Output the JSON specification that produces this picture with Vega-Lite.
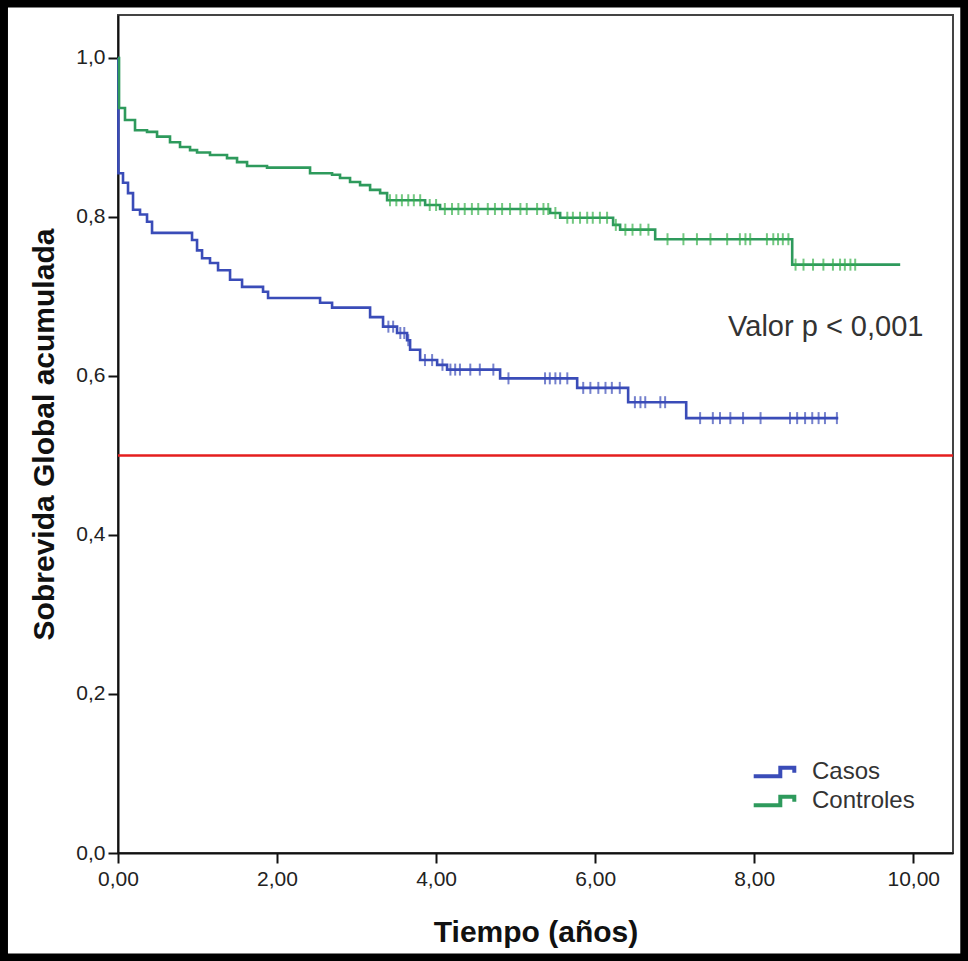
{
  "$schema": "https://vega.github.io/schema/vega-lite/v6.json",
  "width": 835,
  "height": 838,
  "autosize": {"type": "none"},
  "padding": {"left": 118, "top": 15, "right": 15, "bottom": 108},
  "background": "white",
  "config": {
    "view": {"stroke": "#444", "strokeWidth": 2},
    "font": "Liberation Sans",
    "axis": {
      "grid": false,
      "domainColor": "#111",
      "domainWidth": 2,
      "tickColor": "#111",
      "tickWidth": 2,
      "tickSize": 10,
      "labelFlush": false,
      "labelFont": "Liberation Sans",
      "labelFontSize": 21,
      "labelColor": "#222",
      "titleFont": "Liberation Sans",
      "titleFontSize": 30,
      "titleFontWeight": "bold",
      "titleColor": "#111"
    },
    "legend": {
      "labelFont": "Liberation Sans",
      "labelFontSize": 24,
      "labelColor": "#333"
    }
  },
  "datasets": {
    "curvas": [
      {"grupo": "Casos", "t": 0, "s": 1.0},
      {"grupo": "Casos", "t": 0.005, "s": 0.855},
      {"grupo": "Casos", "t": 0.063, "s": 0.843},
      {"grupo": "Casos", "t": 0.126, "s": 0.830},
      {"grupo": "Casos", "t": 0.189, "s": 0.809},
      {"grupo": "Casos", "t": 0.277, "s": 0.803},
      {"grupo": "Casos", "t": 0.365, "s": 0.794},
      {"grupo": "Casos", "t": 0.428, "s": 0.780},
      {"grupo": "Casos", "t": 0.931, "s": 0.771},
      {"grupo": "Casos", "t": 0.994, "s": 0.758},
      {"grupo": "Casos", "t": 1.057, "s": 0.748},
      {"grupo": "Casos", "t": 1.157, "s": 0.742},
      {"grupo": "Casos", "t": 1.258, "s": 0.733},
      {"grupo": "Casos", "t": 1.409, "s": 0.721},
      {"grupo": "Casos", "t": 1.560, "s": 0.712},
      {"grupo": "Casos", "t": 1.824, "s": 0.706},
      {"grupo": "Casos", "t": 1.887, "s": 0.698},
      {"grupo": "Casos", "t": 2.541, "s": 0.692},
      {"grupo": "Casos", "t": 2.692, "s": 0.686},
      {"grupo": "Casos", "t": 3.170, "s": 0.674},
      {"grupo": "Casos", "t": 3.333, "s": 0.662},
      {"grupo": "Casos", "t": 3.509, "s": 0.654},
      {"grupo": "Casos", "t": 3.635, "s": 0.645},
      {"grupo": "Casos", "t": 3.673, "s": 0.633},
      {"grupo": "Casos", "t": 3.799, "s": 0.620},
      {"grupo": "Casos", "t": 4.013, "s": 0.614},
      {"grupo": "Casos", "t": 4.138, "s": 0.608},
      {"grupo": "Casos", "t": 4.805, "s": 0.597},
      {"grupo": "Casos", "t": 5.774, "s": 0.585},
      {"grupo": "Casos", "t": 6.415, "s": 0.567},
      {"grupo": "Casos", "t": 7.145, "s": 0.547},
      {"grupo": "Casos", "t": 9.057, "s": 0.547},
      {"grupo": "Controles", "t": 0, "s": 1.0},
      {"grupo": "Controles", "t": 0.013, "s": 0.937},
      {"grupo": "Controles", "t": 0.088, "s": 0.922},
      {"grupo": "Controles", "t": 0.214, "s": 0.909},
      {"grupo": "Controles", "t": 0.365, "s": 0.907},
      {"grupo": "Controles", "t": 0.491, "s": 0.901},
      {"grupo": "Controles", "t": 0.654, "s": 0.894},
      {"grupo": "Controles", "t": 0.780, "s": 0.888},
      {"grupo": "Controles", "t": 0.906, "s": 0.884},
      {"grupo": "Controles", "t": 0.994, "s": 0.881},
      {"grupo": "Controles", "t": 1.157, "s": 0.878},
      {"grupo": "Controles", "t": 1.371, "s": 0.874},
      {"grupo": "Controles", "t": 1.497, "s": 0.869},
      {"grupo": "Controles", "t": 1.623, "s": 0.864},
      {"grupo": "Controles", "t": 1.874, "s": 0.862},
      {"grupo": "Controles", "t": 2.415, "s": 0.855},
      {"grupo": "Controles", "t": 2.692, "s": 0.853},
      {"grupo": "Controles", "t": 2.792, "s": 0.849},
      {"grupo": "Controles", "t": 2.918, "s": 0.844},
      {"grupo": "Controles", "t": 3.044, "s": 0.840},
      {"grupo": "Controles", "t": 3.170, "s": 0.834},
      {"grupo": "Controles", "t": 3.296, "s": 0.830},
      {"grupo": "Controles", "t": 3.384, "s": 0.821},
      {"grupo": "Controles", "t": 3.862, "s": 0.815},
      {"grupo": "Controles", "t": 4.050, "s": 0.810},
      {"grupo": "Controles", "t": 5.434, "s": 0.805},
      {"grupo": "Controles", "t": 5.560, "s": 0.799},
      {"grupo": "Controles", "t": 6.226, "s": 0.790},
      {"grupo": "Controles", "t": 6.314, "s": 0.784},
      {"grupo": "Controles", "t": 6.755, "s": 0.772},
      {"grupo": "Controles", "t": 8.478, "s": 0.740},
      {"grupo": "Controles", "t": 9.836, "s": 0.740}
    ],
    "censuras": [
      {"grupo": "Controles", "t": 3.42, "s": 0.821},
      {"grupo": "Controles", "t": 3.50, "s": 0.821},
      {"grupo": "Controles", "t": 3.57, "s": 0.821},
      {"grupo": "Controles", "t": 3.65, "s": 0.821},
      {"grupo": "Controles", "t": 3.72, "s": 0.821},
      {"grupo": "Controles", "t": 3.80, "s": 0.821},
      {"grupo": "Controles", "t": 3.92, "s": 0.815},
      {"grupo": "Controles", "t": 4.00, "s": 0.815},
      {"grupo": "Controles", "t": 4.11, "s": 0.810},
      {"grupo": "Controles", "t": 4.20, "s": 0.810},
      {"grupo": "Controles", "t": 4.28, "s": 0.810},
      {"grupo": "Controles", "t": 4.36, "s": 0.810},
      {"grupo": "Controles", "t": 4.45, "s": 0.810},
      {"grupo": "Controles", "t": 4.53, "s": 0.810},
      {"grupo": "Controles", "t": 4.65, "s": 0.810},
      {"grupo": "Controles", "t": 4.74, "s": 0.810},
      {"grupo": "Controles", "t": 4.83, "s": 0.810},
      {"grupo": "Controles", "t": 4.93, "s": 0.810},
      {"grupo": "Controles", "t": 5.06, "s": 0.810},
      {"grupo": "Controles", "t": 5.14, "s": 0.810},
      {"grupo": "Controles", "t": 5.27, "s": 0.810},
      {"grupo": "Controles", "t": 5.35, "s": 0.810},
      {"grupo": "Controles", "t": 5.41, "s": 0.810},
      {"grupo": "Controles", "t": 5.50, "s": 0.805},
      {"grupo": "Controles", "t": 5.65, "s": 0.799},
      {"grupo": "Controles", "t": 5.72, "s": 0.799},
      {"grupo": "Controles", "t": 5.81, "s": 0.799},
      {"grupo": "Controles", "t": 5.90, "s": 0.799},
      {"grupo": "Controles", "t": 5.97, "s": 0.799},
      {"grupo": "Controles", "t": 6.06, "s": 0.799},
      {"grupo": "Controles", "t": 6.15, "s": 0.799},
      {"grupo": "Controles", "t": 6.26, "s": 0.790},
      {"grupo": "Controles", "t": 6.38, "s": 0.784},
      {"grupo": "Controles", "t": 6.47, "s": 0.784},
      {"grupo": "Controles", "t": 6.57, "s": 0.784},
      {"grupo": "Controles", "t": 6.67, "s": 0.784},
      {"grupo": "Controles", "t": 6.91, "s": 0.772},
      {"grupo": "Controles", "t": 7.11, "s": 0.772},
      {"grupo": "Controles", "t": 7.28, "s": 0.772},
      {"grupo": "Controles", "t": 7.45, "s": 0.772},
      {"grupo": "Controles", "t": 7.66, "s": 0.772},
      {"grupo": "Controles", "t": 7.82, "s": 0.772},
      {"grupo": "Controles", "t": 7.89, "s": 0.772},
      {"grupo": "Controles", "t": 7.95, "s": 0.772},
      {"grupo": "Controles", "t": 8.16, "s": 0.772},
      {"grupo": "Controles", "t": 8.24, "s": 0.772},
      {"grupo": "Controles", "t": 8.30, "s": 0.772},
      {"grupo": "Controles", "t": 8.36, "s": 0.772},
      {"grupo": "Controles", "t": 8.43, "s": 0.772},
      {"grupo": "Controles", "t": 8.52, "s": 0.740},
      {"grupo": "Controles", "t": 8.62, "s": 0.740},
      {"grupo": "Controles", "t": 8.74, "s": 0.740},
      {"grupo": "Controles", "t": 8.87, "s": 0.740},
      {"grupo": "Controles", "t": 8.99, "s": 0.740},
      {"grupo": "Controles", "t": 9.08, "s": 0.740},
      {"grupo": "Controles", "t": 9.14, "s": 0.740},
      {"grupo": "Controles", "t": 9.21, "s": 0.740},
      {"grupo": "Controles", "t": 9.27, "s": 0.740},
      {"grupo": "Casos", "t": 3.40, "s": 0.662},
      {"grupo": "Casos", "t": 3.46, "s": 0.662},
      {"grupo": "Casos", "t": 3.55, "s": 0.654},
      {"grupo": "Casos", "t": 3.60, "s": 0.654},
      {"grupo": "Casos", "t": 3.65, "s": 0.645},
      {"grupo": "Casos", "t": 3.86, "s": 0.620},
      {"grupo": "Casos", "t": 3.95, "s": 0.620},
      {"grupo": "Casos", "t": 4.08, "s": 0.614},
      {"grupo": "Casos", "t": 4.18, "s": 0.608},
      {"grupo": "Casos", "t": 4.24, "s": 0.608},
      {"grupo": "Casos", "t": 4.30, "s": 0.608},
      {"grupo": "Casos", "t": 4.43, "s": 0.608},
      {"grupo": "Casos", "t": 4.55, "s": 0.608},
      {"grupo": "Casos", "t": 4.72, "s": 0.608},
      {"grupo": "Casos", "t": 4.91, "s": 0.597},
      {"grupo": "Casos", "t": 5.37, "s": 0.597},
      {"grupo": "Casos", "t": 5.43, "s": 0.597},
      {"grupo": "Casos", "t": 5.50, "s": 0.597},
      {"grupo": "Casos", "t": 5.56, "s": 0.597},
      {"grupo": "Casos", "t": 5.65, "s": 0.597},
      {"grupo": "Casos", "t": 5.85, "s": 0.585},
      {"grupo": "Casos", "t": 5.94, "s": 0.585},
      {"grupo": "Casos", "t": 6.04, "s": 0.585},
      {"grupo": "Casos", "t": 6.13, "s": 0.585},
      {"grupo": "Casos", "t": 6.21, "s": 0.585},
      {"grupo": "Casos", "t": 6.31, "s": 0.585},
      {"grupo": "Casos", "t": 6.50, "s": 0.567},
      {"grupo": "Casos", "t": 6.57, "s": 0.567},
      {"grupo": "Casos", "t": 6.63, "s": 0.567},
      {"grupo": "Casos", "t": 6.82, "s": 0.567},
      {"grupo": "Casos", "t": 6.88, "s": 0.567},
      {"grupo": "Casos", "t": 7.32, "s": 0.547},
      {"grupo": "Casos", "t": 7.48, "s": 0.547},
      {"grupo": "Casos", "t": 7.57, "s": 0.547},
      {"grupo": "Casos", "t": 7.70, "s": 0.547},
      {"grupo": "Casos", "t": 7.86, "s": 0.547},
      {"grupo": "Casos", "t": 8.08, "s": 0.547},
      {"grupo": "Casos", "t": 8.45, "s": 0.547},
      {"grupo": "Casos", "t": 8.54, "s": 0.547},
      {"grupo": "Casos", "t": 8.64, "s": 0.547},
      {"grupo": "Casos", "t": 8.73, "s": 0.547},
      {"grupo": "Casos", "t": 8.81, "s": 0.547},
      {"grupo": "Casos", "t": 8.89, "s": 0.547},
      {"grupo": "Casos", "t": 9.04, "s": 0.547}
    ],
    "anotacion": [
      {"texto": "Valor p < 0,001", "t": 8.9, "s": 0.662}
    ],
    "marco": [
      {"x1": -1.434, "x2": 10.642, "y1": 1.0686, "y2": -0.1314}
    ]
  },
  "layer": [
    {
      "data": {"name": "curvas"},
      "mark": {"type": "line", "interpolate": "step-after", "strokeWidth": 2.6},
      "encoding": {
        "x": {
          "field": "t", "type": "quantitative",
          "scale": {"domain": [0, 10.5], "nice": false, "zero": false},
          "axis": {
            "title": "Tiempo (años)",
            "values": [0, 2, 4, 6, 8, 10],
            "labelExpr": "replace(format(datum.value, '.2f'), '.', ',')",
            "labelPadding": 5,
            "titlePadding": 28
          }
        },
        "y": {
          "field": "s", "type": "quantitative",
          "scale": {"domain": [0, 1.054], "nice": false, "zero": false},
          "axis": {
            "title": "Sobrevida Global acumulada",
            "values": [0, 0.2, 0.4, 0.6, 0.8, 1.0],
            "labelExpr": "replace(format(datum.value, '.1f'), '.', ',')",
            "labelPadding": 3,
            "titlePadding": 16
          }
        },
        "color": {
          "field": "grupo", "type": "nominal",
          "scale": {"domain": ["Casos", "Controles"], "range": ["#3a4cb8", "#2e9a5c"]},
          "legend": {
            "title": null,
            "orient": "none",
            "legendX": 640,
            "legendY": 741,
            "symbolType": "M-1.45,0.3H0.45V-0.3H1.45V0.05",
            "symbolSize": 784,
            "symbolStrokeWidth": 4,
            "rowPadding": 0,
            "labelOffset": 22,
            "padding": 0
          }
        },
        "detail": {"field": "grupo"}
      }
    },
    {
      "data": {"name": "censuras"},
      "mark": {"type": "tick", "orient": "vertical", "size": 12, "thickness": 2},
      "encoding": {
        "x": {"field": "t", "type": "quantitative"},
        "y": {"field": "s", "type": "quantitative"},
        "color": {
          "field": "grupo", "type": "nominal",
          "scale": {"domain": ["Casos", "Controles"], "range": ["#3a4cb8", "#37b04c"]},
          "legend": null
        }
      }
    },
    {
      "data": {"values": [{"ref": 0.5}]},
      "mark": {"type": "rule", "color": "#e51e1e", "strokeWidth": 2.5},
      "encoding": {"y": {"field": "ref", "type": "quantitative"}}
    },
    {
      "data": {"name": "anotacion"},
      "mark": {"type": "text", "font": "Liberation Sans", "fontSize": 29, "color": "#333", "align": "center", "baseline": "middle"},
      "encoding": {
        "x": {"field": "t", "type": "quantitative"},
        "y": {"field": "s", "type": "quantitative"},
        "text": {"field": "texto"}
      }
    },
    {
      "data": {"name": "marco"},
      "mark": {"type": "rect", "fill": null, "fillOpacity": 0, "stroke": "#000", "strokeWidth": 8, "clip": false},
      "encoding": {
        "x": {"field": "x1", "type": "quantitative"},
        "x2": {"field": "x2"},
        "y": {"field": "y1", "type": "quantitative"},
        "y2": {"field": "y2"}
      }
    }
  ],
  "resolve": {"scale": {"color": "independent"}}
}
